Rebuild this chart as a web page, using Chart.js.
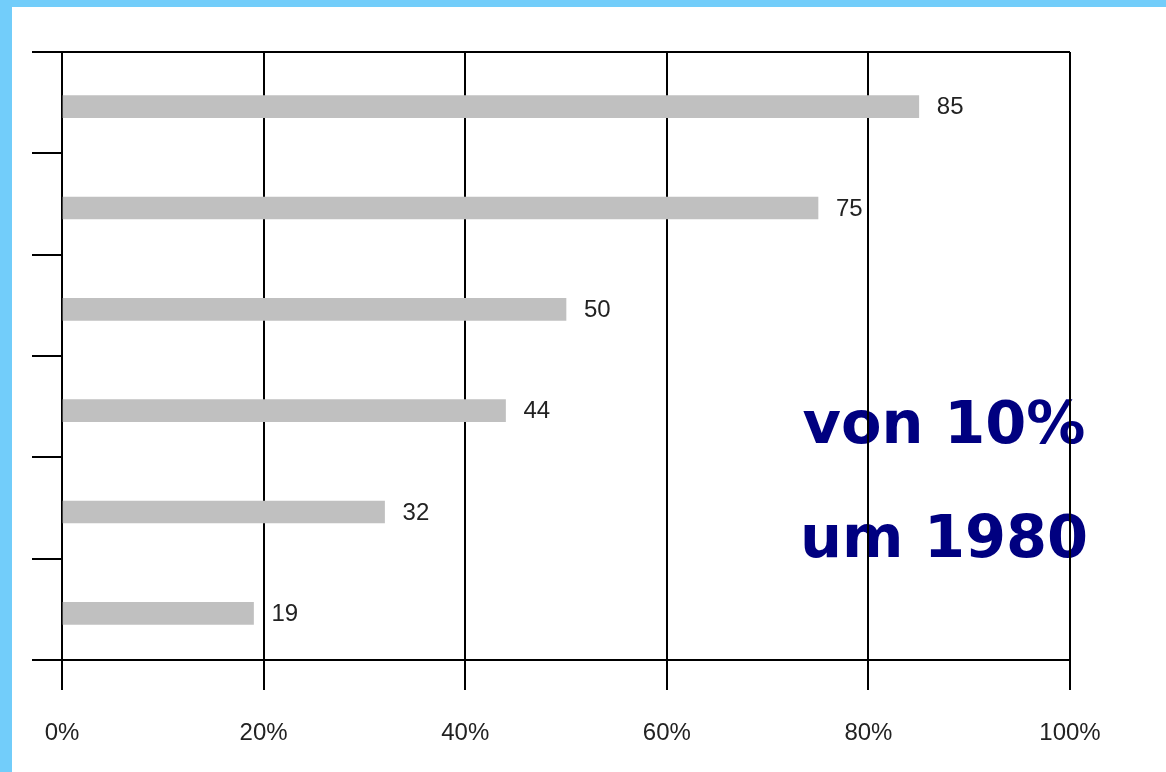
<!DOCTYPE html>
<html>
<head>
<meta charset="utf-8">
<script src="https://cdn.jsdelivr.net/npm/chart.js@4"></script>
<style>
  html, body { margin: 0; padding: 0; background: #fff; }
  canvas { display: block; }
</style>
</head>
<body>
<canvas id="c" width="1166" height="772"></canvas>
<script>
const categories = ['A', 'B', 'C', 'D', 'E', 'F'];
const values = [85, 75, 50, 44, 32, 19];
const valueLabels = ['85', '75', '50', '44', '32', '19'];
const xTicks = [0, 20, 40, 60, 80, 100];
const noteLines = ['von 10%', 'um 1980'];

const BLUE = '#72CDFA';
const BAR_SHIFT = 4; // bars sit slightly below the middle of their band

const framePlugin = {
  id: 'frame',
  beforeDraw(chart) {
    const ctx = chart.ctx;
    ctx.save();
    ctx.fillStyle = BLUE;
    ctx.fillRect(0, 0, chart.width, chart.height);
    ctx.fillStyle = '#ffffff';
    ctx.fillRect(12, 7, chart.width - 12, chart.height - 7);
    // annotation text (drawn under the grid, as in the reference)
    const x = chart.scales.x.getPixelForValue(87.5);
    ctx.fillStyle = '#000080';
    ctx.font = 'bold 59px "DejaVu Sans"';
    ctx.textAlign = 'center';
    ctx.textBaseline = 'alphabetic';
    ctx.fillText(noteLines[0], x, 443);
    ctx.fillText(noteLines[1], x, 557);
    ctx.restore();
  },
  beforeDatasetsDraw(chart) {
    chart.ctx.save();
    chart.ctx.translate(0, BAR_SHIFT);
  },
  afterDatasetsDraw(chart) {
    chart.ctx.restore();
  }
};

const valueLabelPlugin = {
  id: 'valueLabels',
  afterDatasetsDraw(chart) {
    const ctx = chart.ctx;
    const meta = chart.getDatasetMeta(0);
    ctx.save();
    ctx.fillStyle = '#222';
    ctx.font = '24px "Liberation Sans", Arial, sans-serif';
    ctx.textAlign = 'left';
    ctx.textBaseline = 'middle';
    meta.data.forEach((bar, i) => {
      ctx.fillText(valueLabels[i], bar.x + 18, bar.y + BAR_SHIFT + 1);
    });
    ctx.restore();
  }
};

new Chart(document.getElementById('c'), {
  type: 'bar',
  data: {
    labels: categories,
    datasets: [{
      data: values,
      backgroundColor: '#C0C0C0',
      borderWidth: 0,
      barThickness: 22
    }]
  },
  options: {
    indexAxis: 'y',
    responsive: false,
    animation: false,
    events: [],
    layout: { padding: { left: 32, top: 52, right: 96, bottom: 24 } },
    plugins: { legend: { display: false }, tooltip: { enabled: false } },
    scales: {
      x: {
        type: 'linear',
        min: 0,
        max: 100,
        afterBuildTicks(scale) { scale.ticks = xTicks.map(v => ({ value: v })); },
        afterFit(scale) { scale.height = 88; },
        grid: {
          color: '#000',
          lineWidth: 2,
          tickLength: 30,
          tickColor: '#000',
          tickWidth: 2
        },
        border: { display: true, color: '#000', width: 2 },
        ticks: {
          padding: 29,
          color: '#222',
          font: { family: '"Liberation Sans", Arial, sans-serif', size: 24 },
          callback: v => v + '%',
          maxRotation: 0
        }
      },
      y: {
        grid: {
          offset: true,
          color: ctx => (ctx.index === 0 || ctx.type === 'scale') ? '#000' : 'rgba(0,0,0,0)',
          lineWidth: 2,
          tickLength: 30,
          tickColor: '#000',
          tickWidth: 2
        },
        border: { display: true, color: '#000', width: 2 },
        ticks: { display: false }
      }
    }
  },
  plugins: [framePlugin, valueLabelPlugin]
});
</script>
</body>
</html>
